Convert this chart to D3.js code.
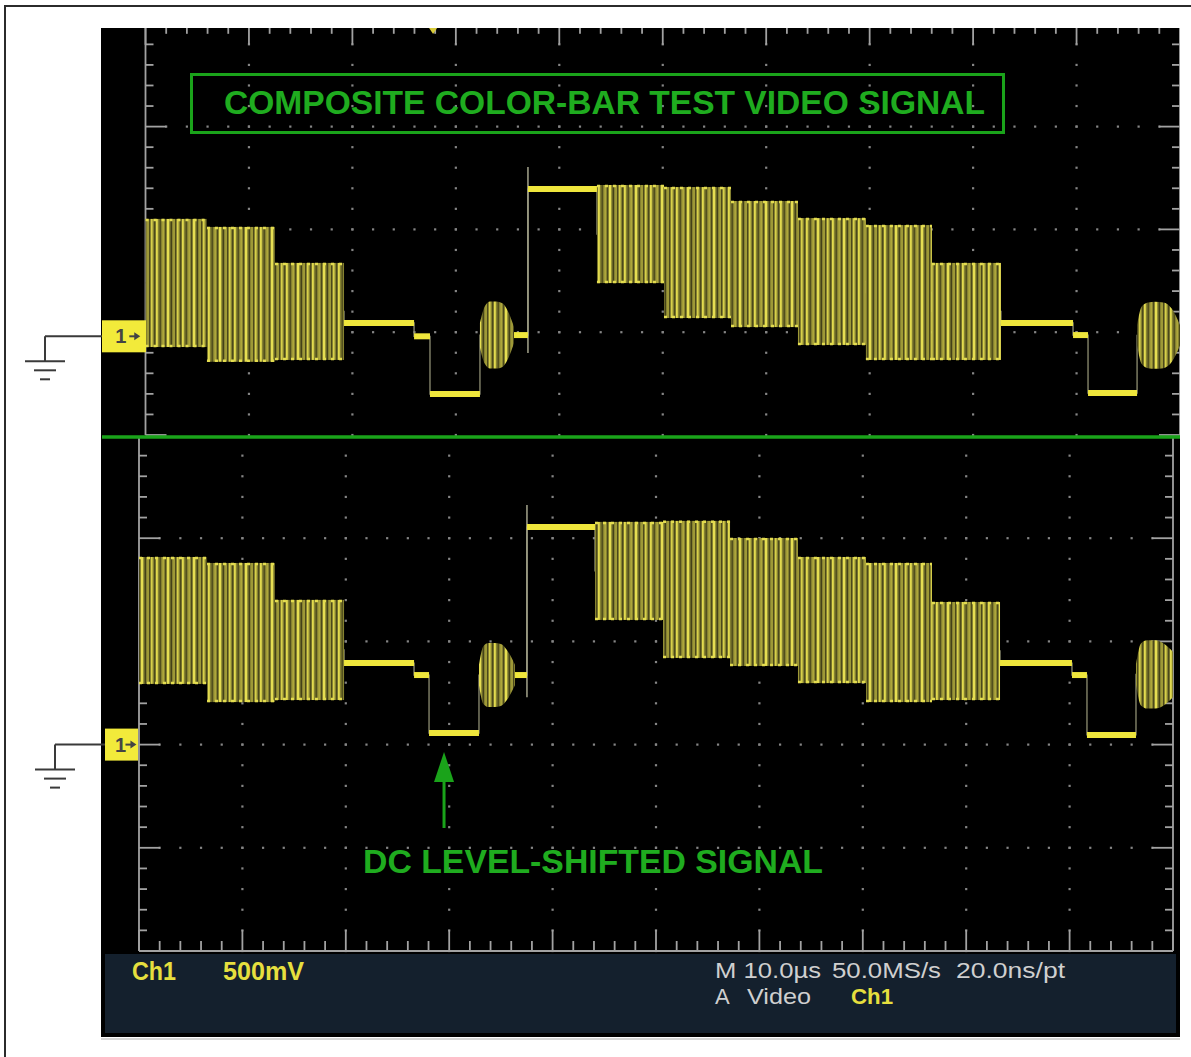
<!DOCTYPE html>
<html><head><meta charset="utf-8">
<script src="https://cdn.jsdelivr.net/npm/d3@7"></script>
<style>html,body{margin:0;padding:0;background:#fff;overflow:hidden}</style>
</head><body>
<svg id="c" width="1191" height="1057"></svg>
<script>
// ================= DATA =================
// one NTSC line (end of previous line + next line), 10 µs/div, 500 mV/div
const segNames = ["Magenta","Red","Blue","Black","Front porch","Sync","Burst","Back porch","White",
  "Yellow","Cyan","Green","Magenta","Red","Blue","Black","Front porch","Sync","Burst"];
const segKinds = ["chroma","chroma","chroma","flat","flat","flat","burst","flat","flat",
  "chroma","chroma","chroma","chroma","chroma","chroma","flat","flat","flat","burst"];

// segment boundaries in µs (screen time, 0..100)
const upperTimes = [0, 5.94, 12.52, 19.19, 25.96, 27.5, 32.33, 35.62, 36.97, 43.64, 50.12, 56.6, 63.07, 69.64, 76.02, 82.69, 89.66, 91.11, 95.85, 100];
const lowerTimes = [0, 6.58, 13.15, 19.83, 26.6, 28.05, 32.88, 36.36, 37.52, 44.1, 50.68, 57.16, 63.73, 70.31, 76.69, 83.27, 90.23, 91.68, 96.42, 100];

// levels in volts vs. ground (top / bottom of envelope; equal for flat parts, burst = centre)
const upperTop    = [0.571, 0.532, 0.357, 0.065, 0.0, -0.281, 0.006, 0.006, 0.716, 0.736, 0.726, 0.658, 0.575, 0.541, 0.357, 0.065, 0.006, -0.276, 0.005];
const upperBottom = [-0.052, -0.124, -0.115, 0.065, 0.0, -0.281, 0.006, 0.006, 0.716, 0.259, 0.089, 0.045, -0.042, -0.115, -0.115, 0.065, 0.006, -0.276, 0.005];
const lowerTop    = [0.909, 0.880, 0.701, 0.395, 0.337, 0.056, 0.337, 0.337, 1.054, 1.079, 1.084, 1.001, 0.909, 0.880, 0.691, 0.395, 0.337, 0.047, 0.340];
const lowerBottom = [0.294, 0.206, 0.216, 0.395, 0.337, 0.056, 0.337, 0.337, 1.054, 0.604, 0.420, 0.381, 0.298, 0.206, 0.216, 0.395, 0.337, 0.047, 0.340];

// colour-burst envelopes (time µs, half amplitude V)
const upperBurstTimes = [[32.33, 32.8, 33.3, 33.9, 34.5, 35.0, 35.62], [95.85, 96.3, 96.9, 97.6, 98.4, 99.2, 100]];
const upperBurstAmps  = [[0.06, 0.14, 0.163, 0.163, 0.155, 0.12, 0.04], [0.05, 0.14, 0.16, 0.163, 0.16, 0.13, 0.05]];
const lowerBurstTimes = [[32.88, 33.3, 33.8, 34.4, 35.0, 35.6, 36.36], [96.42, 96.9, 97.5, 98.3, 99.1, 100]];
const lowerBurstAmps  = [[0.05, 0.14, 0.155, 0.155, 0.15, 0.12, 0.05], [0.05, 0.15, 0.165, 0.165, 0.15, 0.11]];

// edge overshoot at start of white bar (V): [bottom, top]
const upperEdge = [-0.081, 0.824];
const lowerEdge = [0.23, 1.161];

const triggerTime = 27.8;       // µs
const arrowTime = 29.5;         // µs (points at lower sync tip)
const titleText = "COMPOSITE COLOR-BAR TEST VIDEO SIGNAL";
const noteText = "DC LEVEL-SHIFTED SIGNAL";
const statusLeft = ["Ch1", "500mV"];
const statusTimebase = ["M 10.0µs", "50.0MS/s", "20.0ns/pt"];
const statusTrigger = ["A", "Video", "Ch1"];
const markerLabel = "1";

// ================= DRAWING =================
const svg = d3.select("#c");
const FONT = "'Liberation Sans', Arial, sans-serif";
const GREEN = "#1aa31a", YEL = "#efe63c";
const defs = svg.append("defs");
// phosphor texture of the aliased 3.58 MHz chroma
const pat = defs.append("pattern").attr("id", "chroma").attr("patternUnits", "userSpaceOnUse")
  .attr("width", 26).attr("height", 9);
pat.append("rect").attr("width", 26).attr("height", 9).attr("fill", "#858130");
[[0, 1.8, "#e2da4e"], [6.5, 1.2, "#bfb840"], [11, 2.2, "#e6de52"], [17.5, 1, "#b8b13e"], [21, 1.6, "#d8d04a"]]
  .forEach(([xx, w, c]) => pat.append("rect").attr("x", xx).attr("width", w).attr("height", 9).attr("fill", c));
[[3.6, 1.1], [9, 0.8], [14.6, 1.3], [19, 0.8], [24.2, 1]]
  .forEach(([xx, w]) => pat.append("rect").attr("x", xx).attr("width", w).attr("height", 9).attr("fill", "#3c3a15"));

// outer frame
svg.append("rect").attr("x", 5).attr("y", 6).attr("width", 1250).attr("height", 1100)
  .attr("fill", "#fff").attr("stroke", "#2b2b2b").attr("stroke-width", 2);
// scope screen
svg.append("rect").attr("x", 101).attr("y", 28).attr("width", 1079).attr("height", 1009).attr("fill", "#000");
svg.append("line").attr("x1", 101).attr("x2", 1180).attr("y1", 1039).attr("y2", 1039).attr("stroke", "#c8c8c8").attr("stroke-width", 1.5);

const panels = [
  { id: "up", clip: [101, 28, 1079, 408], xr: [145.5, 1180], yDom: [0, 4], yRan: [435, 23.8], groundDiv: 0.96,
    rows: [1, 2, 3], yMin: 0, yMax: 4, top: true, bottom: false,
    times: upperTimes, topV: upperTop, botV: upperBottom, bT: upperBurstTimes, bA: upperBurstAmps, edge: upperEdge,
    marker: [102, 44], gnd: [45, 102] },
  { id: "lo", clip: [101, 438, 1079, 515], xr: [139, 1173], yDom: [-4, 1], yRan: [951, 435], groundDiv: -2,
    rows: [0, -1, -2, -3], yMin: -4, yMax: 1, top: false, bottom: true,
    times: lowerTimes, topV: lowerTop, botV: lowerBottom, bT: lowerBurstTimes, bA: lowerBurstAmps, edge: lowerEdge,
    marker: [105, 33], gnd: [55, 105] }
];

const scales = {};
panels.forEach(p => {
  defs.append("clipPath").attr("id", "clip-" + p.id).append("rect")
    .attr("x", p.clip[0]).attr("y", p.clip[1]).attr("width", p.clip[2]).attr("height", p.clip[3]);
  const g = svg.append("g").attr("clip-path", `url(#clip-${p.id})`);
  const xDiv = d3.scaleLinear().domain([0, 10]).range(p.xr);
  const yDiv = d3.scaleLinear().domain(p.yDom).range(p.yRan);
  const x = d3.scaleLinear().domain([0, 100]).range(p.xr);
  const y = d3.scaleLinear().domain([0, 0.5]).range([yDiv(p.groundDiv), yDiv(p.groundDiv + 1)]);
  scales[p.id] = { x, y, xDiv, yDiv };

  // ---- graticule dots ----
  const dots = [];
  for (let c = 1; c <= 9; c++)
    for (let m = p.yMin * 5; m <= p.yMax * 5; m++) dots.push([xDiv(c), yDiv(m / 5)]);
  p.rows.forEach(r => { for (let m = 1; m < 50; m++) dots.push([xDiv(m / 5), yDiv(r)]); });
  g.append("g").selectAll("rect").data(dots).join("rect")
    .attr("x", d => d[0] - 1.1).attr("y", d => d[1] - 1.1).attr("width", 2.2).attr("height", 2.2)
    .attr("fill", "#858585");

  // ---- border rulers ----
  const rg = g.append("g").attr("stroke", "#a2a2a2").attr("stroke-width", 1.8);
  [0, 10].forEach(side => {
    const x0 = xDiv(side), dir = side === 0 ? 1 : -1;
    rg.append("line").attr("x1", x0).attr("x2", x0).attr("y1", yDiv(p.yMin)).attr("y2", yDiv(p.yMax));
    for (let m = p.yMin * 5; m <= p.yMax * 5; m++) {
      const len = m % 5 === 0 ? 21 : 8;
      rg.append("line").attr("x1", x0).attr("x2", x0 + dir * len).attr("y1", yDiv(m / 5)).attr("y2", yDiv(m / 5));
    }
  });
  if (p.top || p.bottom) {
    const yb = p.top ? yDiv(p.yMax) : yDiv(p.yMin), dir = p.top ? 1 : -1;
    rg.append("line").attr("x1", xDiv(0)).attr("x2", xDiv(10)).attr("y1", yb).attr("y2", yb);
    for (let m = 0; m <= 50; m++) {
      const len = m % 5 === 0 ? 21 : 10;
      rg.append("line").attr("x1", xDiv(m / 5)).attr("x2", xDiv(m / 5)).attr("y1", yb).attr("y2", yb + dir * len);
    }
  }

  // ---- trace ----
  const n = segKinds.length;
  const pts = [];
  for (let i = 0; i < n; i++) pts.push([p.times[i], (p.topV[i] + p.botV[i]) / 2]);
  pts.push([p.times[n], (p.topV[n - 1] + p.botV[n - 1]) / 2]);
  g.append("path").attr("d", d3.line().x(d => x(d[0])).y(d => y(d[1])).curve(d3.curveStepAfter)(pts))
    .attr("fill", "none").attr("stroke", "#8e8e72").attr("stroke-width", 1.3);
  const wi = segNames.indexOf("White");
  g.append("line").attr("x1", x(p.times[wi])).attr("x2", x(p.times[wi]))
    .attr("y1", y(p.edge[0])).attr("y2", y(p.edge[1])).attr("stroke", "#a4a48c").attr("stroke-width", 1.5);

  // chroma bars
  const chroma = d3.range(n).filter(i => segKinds[i] === "chroma");
  g.append("g").selectAll("rect").data(chroma).join("rect")
    .attr("x", i => x(p.times[i])).attr("width", i => x(p.times[i + 1]) - x(p.times[i]))
    .attr("y", i => y(p.topV[i])).attr("height", i => y(p.botV[i]) - y(p.topV[i]))
    .attr("fill", "url(#chroma)");
  g.append("g").selectAll("path").data(chroma).join("path")
    .attr("d", i => `M${x(p.times[i])},${y(p.topV[i]) + 1}H${x(p.times[i + 1])}M${x(p.times[i])},${y(p.botV[i]) - 1}H${x(p.times[i + 1])}`)
    .attr("stroke", "#e4dd50").attr("stroke-width", 2.5).attr("stroke-dasharray", "3 5").attr("fill", "none");

  // bursts
  const bursts = d3.range(n).filter(i => segKinds[i] === "burst");
  bursts.forEach((i, k) => {
    const c = p.topV[i];
    const data = p.bT[k].map((t, j) => [t, p.bA[k][j]]);
    const area = d3.area().x(d => x(d[0])).y0(d => y(c - d[1])).y1(d => y(c + d[1])).curve(d3.curveMonotoneX);
    g.append("path").attr("d", area(data)).attr("fill", "url(#chroma)");
  });

  // flat levels
  const flats = d3.range(n).filter(i => segKinds[i] === "flat");
  g.append("g").selectAll("line").data(flats).join("line")
    .attr("x1", i => x(p.times[i])).attr("x2", i => x(p.times[i + 1]))
    .attr("y1", i => y(p.topV[i])).attr("y2", i => y(p.topV[i]))
    .attr("stroke", YEL).attr("stroke-width", 6);

  // ---- channel ground marker ----
  const gy = y(0);
  svg.append("rect").attr("x", p.marker[0]).attr("y", gy - 16).attr("width", p.marker[1]).attr("height", 32).attr("fill", "#f2ea3a");
  svg.append("text").attr("x", p.marker[0] + p.marker[1] * 0.3).attr("y", gy + 7).text(markerLabel)
    .attr("font-family", FONT).attr("font-size", 20).attr("font-weight", "bold").attr("fill", "#444");
  const ax = p.marker[0] + p.marker[1] * 0.62;
  svg.append("line").attr("x1", ax).attr("x2", ax + 6).attr("y1", gy).attr("y2", gy).attr("stroke", "#444").attr("stroke-width", 2);
  svg.append("path").attr("d", `M${ax + 5},${gy - 4}L${ax + 11},${gy}L${ax + 5},${gy + 4}Z`).attr("fill", "#444");
  const gs = svg.append("g").attr("stroke", "#3a3a3a").attr("stroke-width", 2);
  const gx = p.gnd[0];
  gs.append("line").attr("x1", gx).attr("x2", p.gnd[1]).attr("y1", gy).attr("y2", gy);
  gs.append("line").attr("x1", gx).attr("x2", gx).attr("y1", gy).attr("y2", gy + 25);
  [[20, 25], [11, 34], [5, 43]].forEach(([hw, dy]) =>
    gs.append("line").attr("x1", gx - hw).attr("x2", gx + hw).attr("y1", gy + dy).attr("y2", gy + dy));
});

// divider between the two captures
svg.append("line").attr("x1", 102).attr("x2", 1180).attr("y1", 437).attr("y2", 437).attr("stroke", GREEN).attr("stroke-width", 3.5);

// trigger position marker
const tx = scales.up.x(triggerTime);
svg.append("path").attr("d", `M${tx - 4},28L${tx + 4},28L${tx},34Z`).attr("fill", "#d9cc3a");

// title box
svg.append("rect").attr("x", 191.5).attr("y", 74.5).attr("width", 812).attr("height", 58)
  .attr("fill", "none").attr("stroke", GREEN).attr("stroke-width", 3);
svg.append("text").attr("x", 224).attr("y", 114).text(titleText)
  .attr("font-family", FONT).attr("font-size", 34).attr("font-weight", "bold").attr("fill", "#1fac1f")
  .attr("textLength", 761).attr("lengthAdjust", "spacingAndGlyphs");

// DC level shift annotation
const arx = scales.lo.x(arrowTime);
svg.append("line").attr("x1", arx).attr("x2", arx).attr("y1", 828).attr("y2", 775).attr("stroke", GREEN).attr("stroke-width", 3);
svg.append("path").attr("d", `M${arx},752L${arx + 10},782L${arx - 10},782Z`).attr("fill", GREEN);
svg.append("text").attr("x", 363).attr("y", 873).text(noteText)
  .attr("font-family", FONT).attr("font-size", 34).attr("font-weight", "bold").attr("fill", "#1fac1f")
  .attr("textLength", 460).attr("lengthAdjust", "spacingAndGlyphs");

// status bar
svg.append("rect").attr("x", 105).attr("y", 954).attr("width", 1071).attr("height", 79).attr("fill", "#14202d");
const st = svg.append("g").attr("font-family", FONT);
[[statusLeft[0], 132, 980, 44], [statusLeft[1], 223, 980, 81]].forEach(([t, xx, yy, L]) =>
  st.append("text").attr("x", xx).attr("y", yy).text(t).attr("font-size", 25).attr("font-weight", "bold")
    .attr("fill", "#e6df3e").attr("textLength", L).attr("lengthAdjust", "spacingAndGlyphs"));
[[statusTimebase[0], 715, 106], [statusTimebase[1], 832, 109], [statusTimebase[2], 956, 109]].forEach(([t, xx, L]) =>
  st.append("text").attr("x", xx).attr("y", 978).text(t).attr("font-size", 22)
    .attr("fill", "#cfcfcf").attr("textLength", L).attr("lengthAdjust", "spacingAndGlyphs"));
st.append("text").attr("x", 715).attr("y", 1004).text(statusTrigger[0]).attr("font-size", 22).attr("fill", "#cfcfcf");
st.append("text").attr("x", 747).attr("y", 1004).text(statusTrigger[1]).attr("font-size", 22).attr("fill", "#cfcfcf")
  .attr("textLength", 64).attr("lengthAdjust", "spacingAndGlyphs");
st.append("text").attr("x", 851).attr("y", 1004).text(statusTrigger[2]).attr("font-size", 22).attr("font-weight", "bold")
  .attr("fill", "#e6df3e").attr("textLength", 42).attr("lengthAdjust", "spacingAndGlyphs");
</script>
</body></html>
